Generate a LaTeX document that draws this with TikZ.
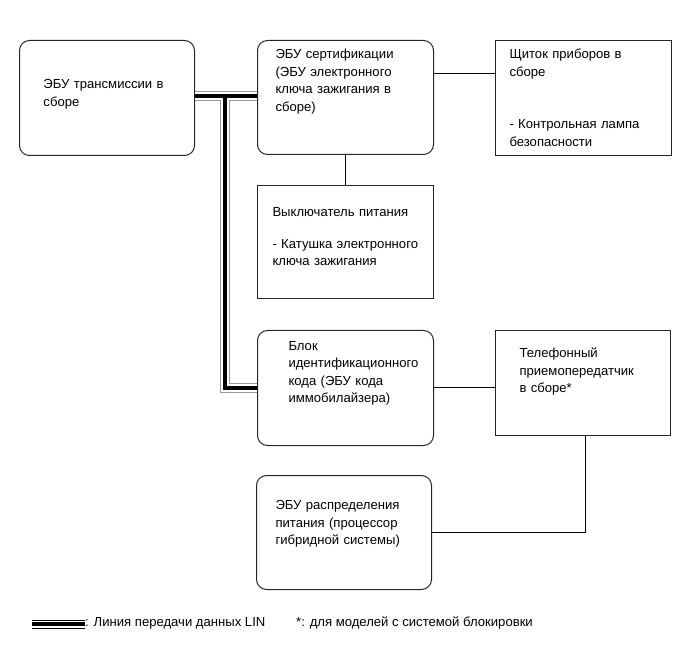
\documentclass[tikz,border=0pt]{standalone}
\usepackage{fontspec}
\setmainfont{Liberation Sans}

\begin{document}
\begin{tikzpicture}[x=1pt,y=-1pt,unit/.style={draw=black!85,line width=1pt,anchor=north west,inner sep=0pt,text width=176pt,align=left,font=\fontsize{13.1}{17.5}\selectfont},ecu/.style={unit,rounded corners=10pt},pad/.style={execute at begin node={\leftskip=#1pt\relax}},w/.style={line width=1pt},lin/.style={draw=black,line width=4pt,preaction={draw=black!40,line width=10pt},preaction={draw=white,line width=8pt}},linkey/.style={draw=black,line width=3.5pt,preaction={draw=black,line width=9pt},preaction={draw=white,line width=7pt}},note/.style={anchor=base west,inner sep=0pt,font=\fontsize{13.1}{17.5}\selectfont}]
\useasboundingbox (0,0) rectangle (689,663);
\node[ecu,pad=24,text width=175pt,text height=48.5pt,text depth=66.5pt] (trans) at (19,40) {ЭБУ трансмиссии в\\сборе};
\node[ecu,pad=18,text height=18.5pt,text depth=95.5pt] (cert) at (257,40) {ЭБУ сертификации\\(ЭБУ электронного\\ключа зажигания в\\сборе)};
\node[unit,pad=14,text height=18.5pt,text depth=96.5pt] (cluster) at (495,40) {Щиток приборов в\\сборе\\[35pt]- Контрольная лампа\\безопасности};
\node[unit,pad=15,text height=31pt,text depth=82pt] (switch) at (257,185) {Выключатель питания\\[14.5pt]- Катушка электронного\\ключа зажигания};
\node[ecu,pad=31,text height=20pt,text depth=95pt] (idcode) at (257,330) {Блок\\идентификационного\\кода (ЭБУ кода\\иммобилайзера)};
\node[unit,pad=24,text width=175pt,text height=27.5pt,text depth=77.5pt] (phone) at (495,330) {Телефонный\\приемопередатчик\\в сборе*};
\node[ecu,pad=19,text width=175pt,text height=34pt,text depth=80pt] (power) at (256,475) {ЭБУ распределения\\питания (процессор\\гибридной системы)};
\coordinate (tee) at (224.5,96);
\draw[lin] (tee -| trans.east) -- (tee -| cert.west) (tee) |- (idcode.west);
\draw[w] ([yshift=24pt]cert.east) -- ([yshift=24pt]cert.east -| cluster.west);
\draw[w] (cert.south) -- (switch.north);
\draw[w] (idcode.east) -- (idcode.east -| phone.west);
\draw[w] ([xshift=2pt]phone.south) |- (power.east);
\node[note] (lintext) at (85,626.5) {: Линия передачи данных LIN};
\coordinate (keystart) at (32,624);
\draw[linkey] (keystart) -- (keystart -| lintext.west);
\node[note] (starnote) at (296,626.5) {*: для моделей с системой блокировки};
\end{tikzpicture}
\end{document}
